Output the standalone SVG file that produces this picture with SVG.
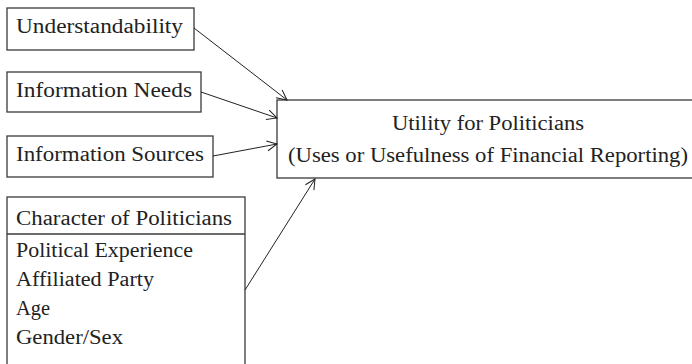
<svg xmlns="http://www.w3.org/2000/svg" width="692" height="364" viewBox="0 0 692 364">
<style>
  .box { fill: #fff; stroke: #3a3a3a; stroke-width: 1.3; }
  .t { font-family: 'Liberation Serif', 'DejaVu Serif', 'Times New Roman', serif; font-size: 20px; fill: #222; }
  .c { text-anchor: middle; }
  .edge { fill: none; stroke: #222; stroke-width: 1; marker-end: url(#arr); }
</style>
<defs>
  <marker id="arr" viewBox="0 0 12 12" refX="11" refY="6" markerWidth="12" markerHeight="12" markerUnits="userSpaceOnUse" orient="auto">
    <path d="M1,1 L11,6 L1,11" fill="none" stroke="#222" stroke-width="1"/>
  </marker>
</defs>
<rect width="692" height="364" fill="#fff"/>
<g id="n-understandability">
  <rect class="box" x="7" y="8" width="187" height="42"/>
  <text class="t" font-family="Liberation Serif, serif" x="16" y="33" textLength="167" lengthAdjust="spacingAndGlyphs">Understandability</text>
</g>
<g id="n-information-needs">
  <rect class="box" x="7" y="72" width="194" height="40"/>
  <text class="t" font-family="Liberation Serif, serif" x="16" y="97" textLength="176" lengthAdjust="spacingAndGlyphs">Information Needs</text>
</g>
<g id="n-information-sources">
  <rect class="box" x="7" y="136" width="206" height="41"/>
  <text class="t" font-family="Liberation Serif, serif" x="16" y="161" textLength="188" lengthAdjust="spacingAndGlyphs">Information Sources</text>
</g>
<g id="n-character">
  <rect class="box" x="7" y="197" width="238" height="180"/>
  <line x1="7" y1="234" x2="245" y2="234" stroke="#3a3a3a" stroke-width="1.3"/>
  <text class="t" font-family="Liberation Serif, serif" x="16" y="225" textLength="216" lengthAdjust="spacingAndGlyphs">Character of Politicians</text>
  <text class="t" font-family="Liberation Serif, serif" x="16" y="257" textLength="177" lengthAdjust="spacingAndGlyphs">Political Experience</text>
  <text class="t" font-family="Liberation Serif, serif" x="16" y="286" textLength="138" lengthAdjust="spacingAndGlyphs">Affiliated Party</text>
  <text class="t" font-family="Liberation Serif, serif" x="16" y="315" textLength="34" lengthAdjust="spacingAndGlyphs">Age</text>
  <text class="t" font-family="Liberation Serif, serif" x="16" y="344" textLength="107" lengthAdjust="spacingAndGlyphs">Gender/Sex</text>
</g>
<g id="n-utility">
  <rect class="box" x="277" y="100" width="430" height="78"/>
  <text class="t c" font-family="Liberation Serif, serif" x="488" y="130" textLength="192" lengthAdjust="spacingAndGlyphs">Utility for Politicians</text>
  <text class="t c" font-family="Liberation Serif, serif" x="488" y="162" textLength="400" lengthAdjust="spacingAndGlyphs">(Uses or Usefulness of Financial Reporting)</text>
</g>
<g id="connectors">
  <line class="edge" x1="194" y1="28" x2="287" y2="100"/>
  <line class="edge" x1="201" y1="92" x2="277" y2="118"/>
  <line class="edge" x1="213" y1="156" x2="277" y2="144"/>
  <line class="edge" x1="245" y1="290" x2="315" y2="179"/>
</g>
</svg>
